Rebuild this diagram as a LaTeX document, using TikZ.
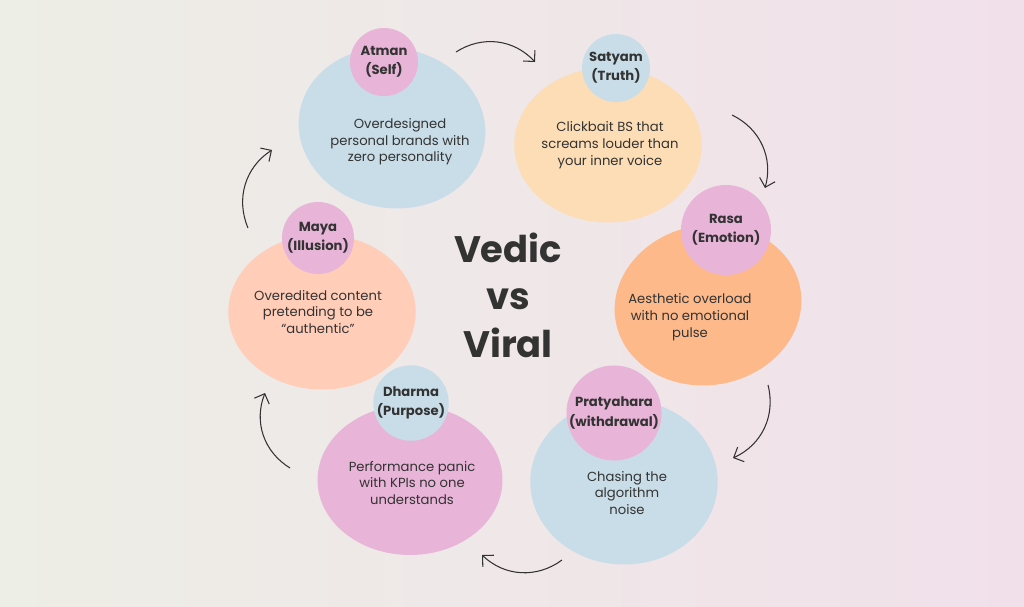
\documentclass[tikz,border=0pt]{standalone}
\usepackage{fontspec}
\setmainfont{Poppins}
\usetikzlibrary{shapes.geometric,arrows.meta,positioning}
\definecolor{bluish}{HTML}{C9DDE8}
\definecolor{peach}{HTML}{FDDDB5}
\definecolor{orangey}{HTML}{FDB98A}
\definecolor{pinky}{HTML}{E8B4D8}
\definecolor{salmon}{HTML}{FFCDB8}
\definecolor{inkc}{HTML}{333333}
\definecolor{bgleft}{HTML}{EDEEE6}
\definecolor{bgright}{HTML}{F1E0EA}
\tikzset{
  blob/.style={ellipse, fill=#1, minimum width=3.75cm, minimum height=3.2cm, inner sep=0pt,
    align=center, font=\fontsize{7.5}{9.5}\selectfont, text=inkc},
  blobtext/.style={text=inkc, align=center, font=\fontsize{7.5}{9.5}\selectfont},
  badge/.style={circle, fill=#1, inner sep=0pt, align=center,
    font=\bfseries\fontsize{7.5}{11}\selectfont, text=inkc},
  loop/.style={-{Straight Barb[length=1.6mm]}, inkc, line width=0.6pt}
}
\begin{document}
\begin{tikzpicture}[x=0.02cm,y=-0.02cm]
\shade[left color=bgleft, right color=bgright] (0,0) rectangle (1024,606);
\useasboundingbox (0,0) rectangle (1024,606);

% blobs
\node[blob=bluish, rotate=-10] (atmanB) at (392,128) {};
\node[blobtext] at (400,142) {Overdesigned\\personal brands with\\zero personality};
\node[blob=peach, minimum height=3.1cm] (satyamB) at (608,145) {};
\node[blobtext] at (610,145) {Clickbait BS that\\screams louder than\\your inner voice};
\node[blob=orangey, minimum height=3.2cm, rotate=10] (rasaB) at (708,305) {};
\node[blobtext] at (690,317) {Aesthetic overload\\with no emotional\\pulse};
\node[blob=bluish, minimum height=3.3cm] (pratB) at (624,482) {};
\node[blobtext] at (627,493) {Chasing the\\algorithm\\noise};
\node[blob=pinky, minimum height=3.0cm, minimum width=3.7cm] (dharmaB) at (410,480) {};
\node[blobtext] at (412,483) {Performance panic\\with KPIs no one\\understands};
\node[blob=salmon, minimum height=3.1cm] (mayaB) at (322,312) {};
\node[blobtext] at (318,312) {Overedited content\\pretending to be\\“authentic”};

% badges
\node[badge=pinky, minimum size=1.36cm] (atman) at (384,62) {Atman\\(Self)};
\node[badge=bluish, minimum size=1.36cm] (satyam) at (616,68) {Satyam\\(Truth)};
\node[badge=pinky, minimum size=1.8cm] (rasa) at (726,230) {Rasa\\(Emotion)};
\node[badge=pinky, minimum size=1.8cm] (prat) at (614,413) {Pratyahara\\(withdrawal)};
\node[badge=bluish, minimum size=1.5cm] (dharma) at (411,403) {Dharma\\(Purpose)};
\node[badge=pinky, minimum size=1.44cm] (maya) at (318,238) {Maya\\(Illusion)};

% title
\node[font=\bfseries\fontsize{21}{27}\selectfont, text=inkc, align=center] (title) at (508,295) {Vedic\\vs\\Viral};

% arrows
\coordinate (a1) at (456,52); \coordinate (a2) at (535,62);
\coordinate (b1) at (732,115); \coordinate (b2) at (765,188);
\coordinate (c1) at (768,385); \coordinate (c2) at (733,458);
\coordinate (d1) at (562,560); \coordinate (d2) at (482,555);
\coordinate (e1) at (290,468); \coordinate (e2) at (265,393);
\coordinate (f1) at (248,228); \coordinate (f2) at (272,150);
\draw[loop] (a1) to[bend left=40] (a2);
\draw[loop] (b1) to[bend left=40] (b2);
\draw[loop] (c1) to[bend left=40] (c2);
\draw[loop] (d1) to[bend left=40] (d2);
\draw[loop] (e1) to[bend left=40] (e2);
\draw[loop] (f1) to[bend left=40] (f2);
\end{tikzpicture}
\end{document}
